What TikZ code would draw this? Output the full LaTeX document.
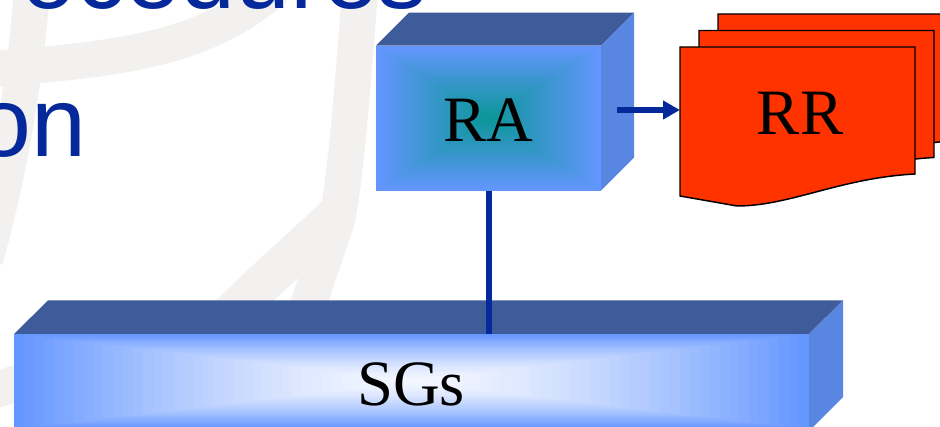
\documentclass[tikz,border=0pt]{standalone}
\usepackage{fontspec}
\setmainfont{Liberation Serif}
\newfontfamily\titlefont{Liberation Sans}
\usetikzlibrary{arrows.meta}
\definecolor{titleblue}{RGB}{5,40,155}
\definecolor{topface}{RGB}{61,92,153}
\definecolor{sideface}{RGB}{88,134,224}
\definecolor{edgeblue}{RGB}{100,150,255}
\definecolor{racenter}{RGB}{10,150,150}
\definecolor{sgcenter}{RGB}{244,247,255}
\definecolor{rrfill}{RGB}{255,51,0}
\definecolor{wmgray}{RGB}{242,241,240}
\tikzset{
  wm/.style={draw=wmgray, line width=27pt, line cap=butt},
  titletext/.style={font=\titlefont\fontsize{74}{88}\selectfont, text=titleblue, inner sep=0pt, outer sep=0pt},
  lbl/.style={font=\fontsize{48.5}{58}\selectfont, text=black, inner sep=0pt, outer sep=0pt},
  frame/.style={inner sep=0pt, outer sep=0pt},
  topf/.style={fill=topface},
  sidef/.style={fill=sideface},
  conn/.style={draw=titleblue, line width=4.5pt},
  docstyle/.style={fill=rrfill, draw=black, line width=1.1pt, line join=miter},
  docpic/.pic={\path[docstyle] (0,0) -- (235,0) -- (235,127) .. controls (160,131) and (110,159) .. (57,159) -- (0,149) -- cycle;}
}
\begin{document}
\begin{tikzpicture}[x=0.75pt,y=-0.75pt]
\useasboundingbox (0,0) rectangle (940,427);
\clip (0,0) rectangle (940,427);
\fill[white] (0,0) rectangle (940,427);
% watermark
\draw[wm] (-20,70) .. controls (100,60) and (200,55) .. (275,-12);
\draw[wm] (32,-10) .. controls (25,80) and (10,170) .. (-15,260);
\draw[wm] (360,-10) .. controls (352,100) and (345,180) .. (337,220) -- (303,320);
\draw[wm, line width=30pt] (337,215) .. controls (300,250) and (270,275) .. (225,320);
\draw[wm] (-20,395) -- (20,382);
% title fragments
\node[titletext, anchor=base west] (title1) at (21.5,8.5) {ocedures};
\node[titletext, anchor=base west] (title2) at (-23,157) {on};
% SGs bar
\node[frame, minimum width=596.25pt, minimum height=71.25pt] (sgs) at (411.5,381.5) {};
\fill[topf] (14,334) -- (48,300.5) -- (843,300.5) -- (809,334) -- cycle;
\fill[sidef] (809,334) -- (843,300.5) -- (843,397) -- (809,431) -- cycle;
\foreach \k in {40,...,1}{
  \pgfmathsetmacro\t{\k/40}
  \pgfmathtruncatemacro\p{round(100*\t^1.5)}
  \pgfmathsetmacro\hw{397.5*\t}
  \pgfmathsetmacro\hh{47.5*\t}
  \fill[edgeblue!\p!sgcenter] ({411.5-\hw},{381.5-\hh}) rectangle ({411.5+\hw},{381.5+\hh});
}
% RA box
\node[frame, minimum width=168.75pt, minimum height=108.75pt] (ra) at (488.5,118.2) {};
\fill[topf] (376,45.7) -- (409,12.7) -- (634,12.7) -- (601,45.7) -- cycle;
\fill[sidef] (601,45.7) -- (634,12.7) -- (634,157.7) -- (601,190.7) -- cycle;
\foreach \k in {40,...,1}{
  \pgfmathsetmacro\t{\k/40}
  \pgfmathtruncatemacro\p{round(100*\t)}
  \pgfmathsetmacro\hw{112.5*\t}
  \pgfmathsetmacro\hh{72.5*\t}
  \fill[edgeblue!\p!racenter] ({488.5-\hw},{118.2-\hh}) rectangle ({488.5+\hw},{118.2+\hh});
}
% RR documents
\pic at (718,14) {docpic};
\pic at (699,30.5) {docpic};
\pic at (680,47) {docpic};
\node[frame, minimum width=176.25pt, minimum height=111.75pt] (rr) at (797.5,121.5) {};
% connectors
\draw[conn] (ra.south) -- (ra.south |- sgs.north);
\coordinate (arrstart) at (617,110);
\draw[conn, -{Triangle[length=12.75pt,width=13.5pt]}] (arrstart) -- (arrstart -| rr.west);
% labels
\node[lbl, anchor=base] (ralabel) at (488.4,141.7) {RA};
\node[lbl, anchor=base] (rrlabel) at (800,135) {RR};
\node[lbl, anchor=base] (sgslabel) at (411,406) {SGs};
\end{tikzpicture}
\end{document}
